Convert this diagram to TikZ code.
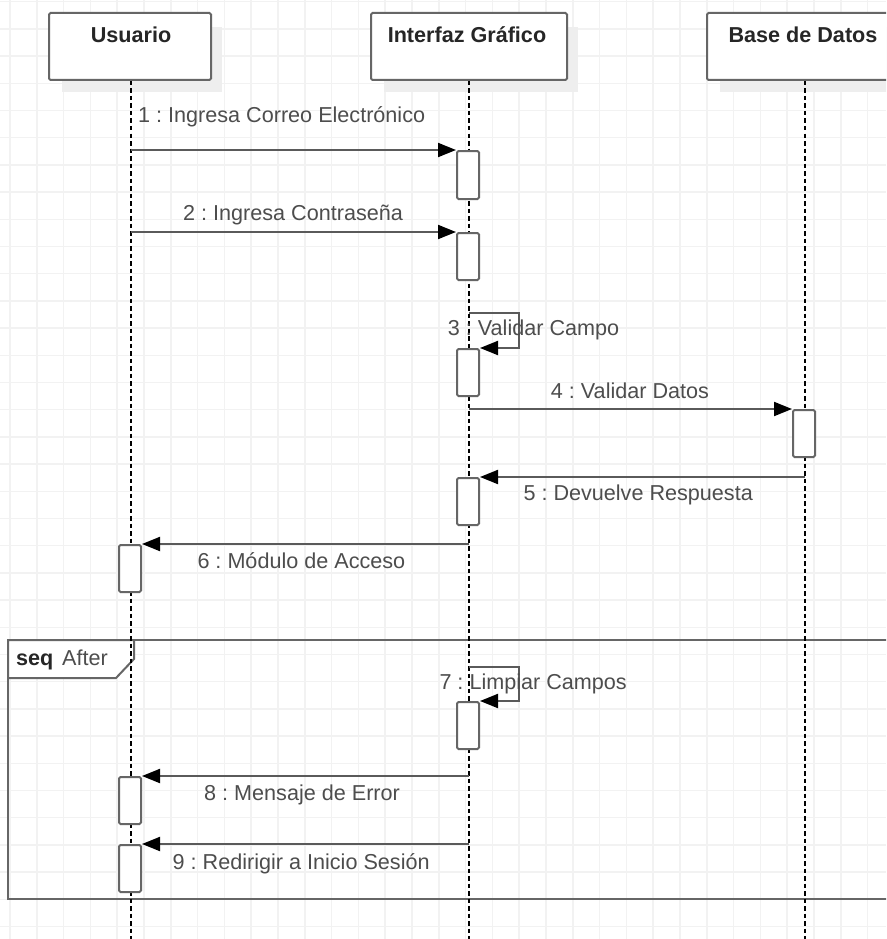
\documentclass[tikz,border=0pt]{standalone}
\usepackage{fontspec}
\setmainfont{Liberation Sans}
\usetikzlibrary{arrows.meta}
\frenchspacing

\definecolor{gridc}{HTML}{F2F2F2}
\definecolor{edgec}{HTML}{666666}
\definecolor{msgc}{HTML}{5A5A5A}
\definecolor{txtc}{HTML}{4D4D4D}
\definecolor{headc}{HTML}{262626}
\definecolor{shadowc}{HTML}{EEEEEE}

\begin{document}
\begin{tikzpicture}[x=1pt,y=-1pt,
  headbox/.style={draw=edgec, line width=2pt, fill=white, rounded corners=1.5pt,
    inner sep=0pt, minimum width=196pt, minimum height=67pt},
  headtxt/.style={font=\fontsize{21.6}{24}\selectfont\bfseries, text=headc,
    inner sep=0pt, anchor=base},
  lifeline/.style={draw=black, line width=1.5pt, dash pattern=on 4.5pt off 3pt},
  actbox/.style={draw=edgec, line width=2pt, fill=white, rounded corners=1.5pt,
    inner sep=0pt, minimum width=22pt, minimum height=47pt, anchor=north},
  msg/.style={draw=msgc, line width=2pt,
    -{Triangle[length=18pt,width=14pt,color=black,fill=black]}},
  lbl/.style={font=\fontsize{21.6}{24}\selectfont, text=txtc,
    inner sep=0pt, anchor=base west},
  framec/.style={draw=edgec, line width=2pt}
]
\useasboundingbox (0,0) rectangle (886,939);
\clip (0,0) rectangle (886,939);

% background grid
\fill[white] (0,0) rectangle (886,939);
\foreach \k in {0,...,33} \draw[gridc, line width=1.5pt] ({10+26.8*\k},0) -- ({10+26.8*\k},939);
\foreach \k in {0,...,34} \draw[gridc, line width=1.5pt] (0,{1.7+27.2*\k}) -- (886,{1.7+27.2*\k});

% combined fragment
\draw[framec] (900,640) -- (8,640) -- (8,899) -- (900,899);
\draw[framec, fill=white, line join=miter] (8,640) -- (134,640) -- (134,659) -- (116,678) -- (8,678) -- cycle;
\node[font=\fontsize{21.6}{24}\selectfont\bfseries, text=headc, inner sep=0pt, anchor=base west] (seqkw) at (16,665.7) {seq};
\node[lbl] (seqname) at (62,665.7) {After};

% lifeline heads with shadows
\fill[shadowc] (62,27) rectangle (222,92);
\fill[shadowc] (384,27) rectangle (578,92);
\fill[shadowc] (720,27) rectangle (914,92);
\node[headbox, minimum width=162pt] (usr) at (130,46.5) {};
\node[headbox] (gui) at (469,46.5) {};
\node[headbox] (db) at (805,46.5) {};
\node[headtxt] (usrtxt) at (131,42.7) {Usuario};
\node[headtxt] (guitxt) at (467,42.7) {Interfaz Gráfico};
\node[headtxt] (dbtxt) at (803,42.7) {Base de Datos};

% lifelines
\coordinate (usrtop) at (131,81);
\coordinate (guitop) at (469,81);
\coordinate (dbtop) at (805,81);
\coordinate (usrend) at (131,939);
\coordinate (guiend) at (469,939);
\coordinate (dbend) at (805,939);
\draw[lifeline] (usrtop) -- (usrend);
\draw[lifeline] (guitop) -- (guiend);
\draw[lifeline] (dbtop) -- (dbend);

% activations
\node[actbox, minimum height=48pt] (a1) at (468,150) {};
\node[actbox] (a2) at (468,232) {};
\node[actbox] (a3) at (468,348) {};
\node[actbox] (a4) at (804,409) {};
\node[actbox] (a5) at (468,477) {};
\node[actbox] (a6) at (130,544) {};
\node[actbox] (a7) at (468,701) {};
\node[actbox] (a8) at (130,776) {};
\node[actbox] (a9) at (130,844) {};

% message start points on the lifelines
\coordinate (s1) at (131,150);
\coordinate (s2) at (131,232);
\coordinate (s3) at (469,312.5);
\coordinate (s4) at (469,409);
\coordinate (s5) at (805,477);
\coordinate (s6) at (469,544);
\coordinate (s7) at (469,667);
\coordinate (s8) at (469,776);
\coordinate (s9) at (469,844);

% messages
\draw[msg] (s1) -- (a1.north west);
\draw[msg] (s2) -- (a2.north west);
\draw[msg] (s3) -- ++(50,0) |- (a3.north east);
\draw[msg] (s4) -- (a4.north west);
\draw[msg] (s5) -- (a5.north east);
\draw[msg] (s6) -- (a6.north east);
\draw[msg] (s7) -- ++(50,0) |- (a7.north east);
\draw[msg] (s8) -- (a8.north east);
\draw[msg] (s9) -- (a9.north east);

% message labels
\node[lbl] (t1) at (138,123) {1 : Ingresa Correo Electrónico};
\node[lbl] (t2) at (183,220.7) {2 : Ingresa Contraseña};
\node[lbl] (t3) at (447.7,335) {3 : Validar Campo};
\node[lbl] (t4) at (550.7,398.3) {4 : Validar Datos};
\node[lbl] (t5) at (523.3,500) {5 : Devuelve Respuesta};
\node[lbl] (t6) at (197.3,568.3) {6 : Módulo de Acceso};
\node[lbl] (t7) at (439.3,689.3) {7 : Limpiar Campos};
\node[lbl] (t8) at (204,800.7) {8 : Mensaje de Error};
\node[lbl] (t9) at (172.5,869) {9 : Redirigir a Inicio Sesión};
\end{tikzpicture}
\end{document}
